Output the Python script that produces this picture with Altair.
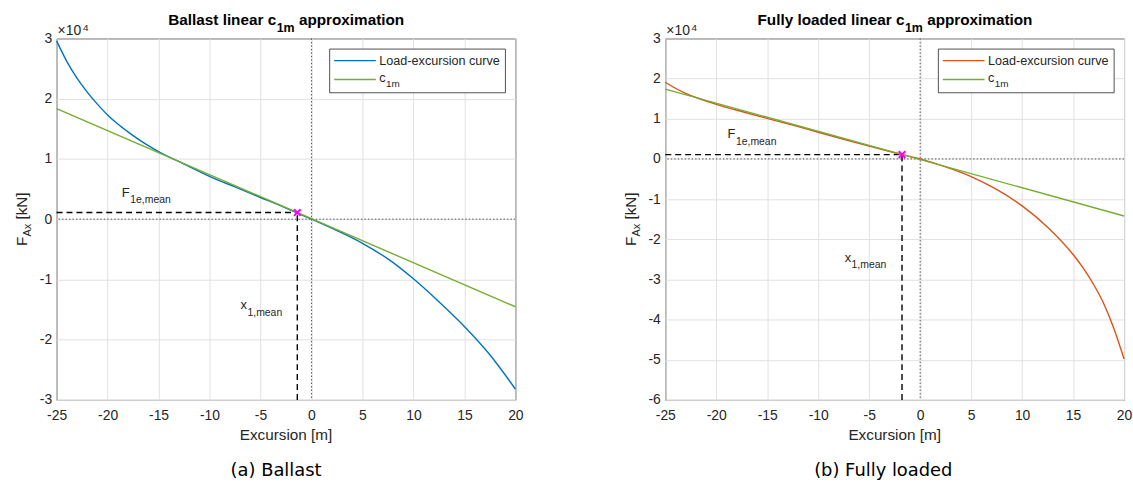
import altair as alt
import pandas as pd

FONT = "Liberation Sans"
CAP_FONT = "DejaVu Sans"
AX_COLOR = "#262626"
GRID_COLOR = "#e1e1e1"
GREEN = "#77AC30"

# ---------------- data (forces in units of 1e4 kN) ----------------
X_DOMAIN = [-25, 20]
X_TICKS = [-25, -20, -15, -10, -5, 0, 5, 10, 15, 20]

ballast_excursion = [-25, -24, -23, -22, -21, -20, -19, -18, -17, -16, -15,
                     -12.5, -10, -7.5, -5, -2.5, 0, 2.5, 5, 7.5, 10, 12.5, 15, 17.5, 20]
ballast_force = [2.96, 2.62, 2.34, 2.11, 1.91, 1.73, 1.58, 1.45, 1.33, 1.22, 1.12,
                 0.915, 0.712, 0.535, 0.36, 0.185, 0.0, -0.19, -0.40, -0.66, -0.99,
                 -1.37, -1.78, -2.25, -2.82]
ballast_c1m_excursion = [-25, 20]
ballast_c1m_force = [1.836, -1.454]
ballast_mean_x = -1.39
ballast_mean_f = 0.11
ballast_y_domain = [-3, 3]
ballast_y_ticks = [-3, -2, -1, 0, 1, 2, 3]
ballast_ann_x = [-18.6, -6.96]
ballast_ann_y = [0.43, -1.43]

loaded_excursion = [-25, -24, -23, -22, -21, -20, -17.5, -15, -12.5, -10, -7.5, -5,
                    -2.5, 0, 2.5, 5, 7.5, 10, 12.5, 15, 16, 17, 18, 19, 20]
loaded_force = [1.91, 1.76, 1.63, 1.53, 1.44, 1.36, 1.18, 1.01, 0.84, 0.665, 0.49,
                0.32, 0.155, 0.0, -0.2, -0.44, -0.76, -1.17, -1.70, -2.38, -2.72,
                -3.12, -3.6, -4.22, -4.98]
loaded_c1m_excursion = [-25, 20]
loaded_c1m_force = [1.74, -1.42]
loaded_mean_x = -1.78
loaded_mean_f = 0.107
loaded_y_domain = [-6, 3]
loaded_y_ticks = [-6, -5, -4, -3, -2, -1, 0, 1, 2, 3]
loaded_ann_x = [-18.9, -7.41]
loaded_ann_y = [0.61, -2.46]

ann_main = ["F", "x"]
ann_sub = ["1e,mean", "1,mean"]

W, H = 462, 364
ONE = pd.DataFrame({"k": [0]})


def vtext(text, x, y, size, align="left", baseline="alphabetic", bold=False,
          angle=0, color=AX_COLOR, font=FONT):
    return alt.Chart(ONE).mark_text(
        text=text, align=align, baseline=baseline, fontSize=size,
        fontWeight="bold" if bold else "normal", angle=angle, color=color, font=font
    ).encode(x=alt.value(x), y=alt.value(y))


def panel(exc, force, color, c1m_x, c1m_f, mx, mf, y_domain, y_ticks,
          ann_x, ann_y, title_main, title_main_w, caption, cap_x, bounds_x):
    xs = alt.Scale(domain=X_DOMAIN, nice=False, zero=False)
    ys = alt.Scale(domain=y_domain, nice=False, zero=False)
    xaxis = alt.Axis(values=X_TICKS, grid=True, gridColor=GRID_COLOR, domain=False,
                     ticks=False, labelFont=FONT, labelFontSize=14, labelColor=AX_COLOR,
                     labelPadding=9, labelFlush=False, labelOverlap=False,
                     labelExpr="'' + datum.value")
    yaxis = alt.Axis(values=y_ticks, grid=True, gridColor=GRID_COLOR, domain=False,
                     ticks=False, labelFont=FONT, labelFontSize=14, labelColor=AX_COLOR,
                     labelPadding=5, labelFlush=False, labelOverlap=False,
                     labelExpr="'' + datum.value")

    def X(f):
        return alt.X(f, type="quantitative", scale=xs, axis=xaxis, title=None)

    def Y(f):
        return alt.Y(f, type="quantitative", scale=ys, axis=yaxis, title=None)

    layers = []
    # invisible frame fixing the panel's outer bounds
    layers.append(alt.Chart(ONE).mark_rect(opacity=0).encode(
        x=alt.value(bounds_x[0]), x2=alt.value(bounds_x[1]),
        y=alt.value(-36), y2=alt.value(449)))

    curve = pd.DataFrame({"exc": exc, "f": force})
    # zero lines (dotted)
    layers.append(alt.Chart(pd.DataFrame({"exc": [0]})).mark_rule(
        color="#555555", strokeDash=[1.5, 2], strokeWidth=1).encode(x=X("exc")))
    layers.append(alt.Chart(pd.DataFrame({"f": [0]})).mark_rule(
        color="#555555", strokeDash=[1.5, 2], strokeWidth=1).encode(y=Y("f")))
    # dashed guides to mean point
    layers.append(alt.Chart(pd.DataFrame({"exc": [X_DOMAIN[0]], "exc2": [mx], "f": [mf]}))
                  .mark_rule(color="black", strokeDash=[6, 4], strokeWidth=1.4)
                  .encode(x=X("exc"), x2="exc2:Q", y=Y("f")))
    layers.append(alt.Chart(pd.DataFrame({"exc": [mx], "f": [y_domain[0]], "f2": [mf]}))
                  .mark_rule(color="black", strokeDash=[6, 4], strokeWidth=1.4)
                  .encode(x=X("exc"), y=Y("f"), y2="f2:Q"))
    # curves
    layers.append(alt.Chart(curve).mark_line(color=color, strokeWidth=1.4, interpolate="monotone")
                  .encode(x=X("exc"), y=Y("f"), order="exc:Q"))
    layers.append(alt.Chart(pd.DataFrame({"exc": c1m_x, "f": c1m_f})).mark_line(
        color=GREEN, strokeWidth=1.4).encode(x=X("exc"), y=Y("f")))
    # mean point marker
    layers.append(alt.Chart(pd.DataFrame({"exc": [mx], "f": [mf]})).mark_point(
        shape="M-1,-1L1,1M-1,1L1,-1", size=45, filled=False, color="#FF00FF",
        strokeWidth=2, opacity=1).encode(x=X("exc"), y=Y("f")))
    # annotations
    for i in range(len(ann_main)):
        d = pd.DataFrame({"exc": [ann_x[i]], "f": [ann_y[i]]})
        layers.append(alt.Chart(d).mark_text(text=ann_main[i], align="left", baseline="middle",
                                             fontSize=13, font=FONT, color=AX_COLOR)
                      .encode(x=X("exc"), y=Y("f")))
        layers.append(alt.Chart(d).mark_text(text=ann_sub[i], align="left", baseline="middle",
                                             fontSize=10.5, font=FONT, color=AX_COLOR,
                                             dx=8.5 if ann_main[i] == "F" else 7, dy=7.3)
                      .encode(x=X("exc"), y=Y("f")))

    # legend (drawn inside the axes like MATLAB)
    lx0, lx1, ly0, ly1 = 275, 452, 10.7, 54.7
    layers.append(alt.Chart(ONE).mark_rect(fill="white", stroke=AX_COLOR, strokeWidth=0.8)
                  .encode(x=alt.value(lx0), x2=alt.value(lx1), y=alt.value(ly0), y2=alt.value(ly1)))
    layers.append(alt.Chart(ONE).mark_rule(color=color, strokeWidth=1.4).encode(
        x=alt.value(lx0 + 4.5), x2=alt.value(lx0 + 46.5), y=alt.value(22.3)))
    layers.append(alt.Chart(ONE).mark_rule(color=GREEN, strokeWidth=1.4).encode(
        x=alt.value(lx0 + 4.5), x2=alt.value(lx0 + 46.5), y=alt.value(41.3)))
    layers.append(vtext("Load-excursion curve", lx0 + 50, 22.6, 12.7, baseline="middle"))
    layers.append(vtext("c", lx0 + 50, 40.3, 12.7, baseline="middle"))
    layers.append(vtext("1m", lx0 + 56.8, 45.7, 10, baseline="middle"))

    # title with subscript
    sub_w = 18.1
    total = title_main_w + sub_w + 110.4
    start = W / 2 - total / 2
    layers.append(vtext(title_main, start + title_main_w, -13.3, 15.4, align="right",
                        bold=True, color="black"))
    layers.append(vtext("1m", start + title_main_w + 0.5, -6.7, 12.5, bold=True, color="black"))
    layers.append(vtext("approximation", start + title_main_w + 0.5 + sub_w + 4.3, -13.3, 15.4,
                        bold=True, color="black"))

    # exponent label
    layers.append(vtext("\u00d710", 1, -3.3, 14))
    layers.append(vtext("4", 26.5, -8, 10))

    # y label F_Ax [kN] (rotated)
    yc = H / 2
    fw, subw = 0.611 * 15.4, 1.167 * 11
    y0 = yc + (fw + subw + 4.3 + 27.4) / 2
    layers.append(vtext("F", -30, y0, 15.4, angle=270))
    layers.append(vtext("Ax", -25.5, y0 - fw, 11, angle=270))
    layers.append(vtext("[kN]", -30, y0 - fw - subw - 4.3, 15.4, angle=270))

    # x label and caption
    layers.append(vtext("Excursion [m]", W / 2, H + 40.7, 15.4, align="center"))
    layers.append(vtext(caption, cap_x, H + 76.7, 18, align="center", font=CAP_FONT,
                        color="black"))

    return alt.layer(*layers).properties(width=W, height=H)


left = panel(ballast_excursion, ballast_force, "#0072BD", ballast_c1m_excursion,
             ballast_c1m_force, ballast_mean_x, ballast_mean_f, ballast_y_domain,
             ballast_y_ticks, ballast_ann_x, ballast_ann_y, "Ballast linear c", 108.7,
             "(a) Ballast", 221, (-56, 537))
right = panel(loaded_excursion, loaded_force, "#D95319", loaded_c1m_excursion,
              loaded_c1m_force, loaded_mean_x, loaded_mean_f, loaded_y_domain,
              loaded_y_ticks, loaded_ann_x, loaded_ann_y, "Fully loaded linear c", 148.1,
              "(b) Fully loaded", 219.5, (-75, 464))

chart = alt.hconcat(left, right, spacing=151, bounds="flush").properties(
    padding=0, background="white"
).configure_view(stroke=AX_COLOR, strokeWidth=1)

chart.save("out.html", embed_options={"renderer": "svg", "actions": False})
